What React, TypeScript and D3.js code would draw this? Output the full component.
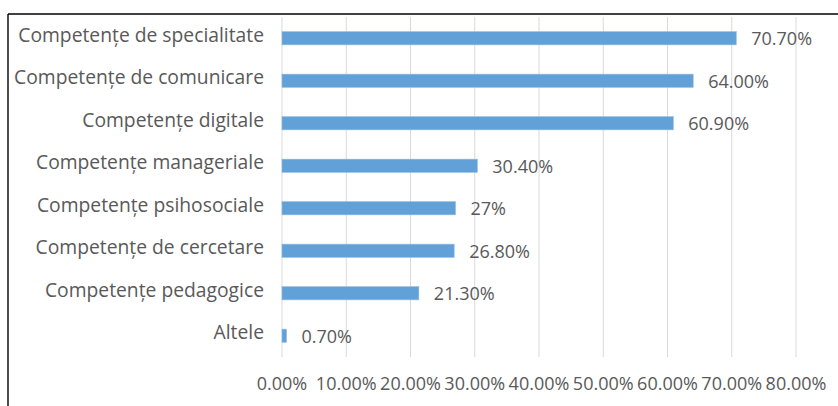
import React from "react";
import * as d3 from "d3";

const categories = [
  "Competențe de specialitate",
  "Competențe de comunicare",
  "Competențe digitale",
  "Competențe manageriale",
  "Competențe psihosociale",
  "Competențe de cercetare",
  "Competențe pedagogice",
  "Altele",
];
const values = [0.707, 0.64, 0.609, 0.304, 0.27, 0.268, 0.213, 0.007];
const valueLabels = ["70.70%", "64.00%", "60.90%", "30.40%", "27%", "26.80%", "21.30%", "0.70%"];
const ticks = [0, 0.1, 0.2, 0.3, 0.4, 0.5, 0.6, 0.7, 0.8];

const W = 838;
const H = 406;
const FONT = "'Open Sans', 'DejaVu Sans', sans-serif";
const TEXT = "#595959";

export default function App() {
  const x = d3.scaleLinear().domain([0, 0.8]).range([282, 796]);
  const y = d3
    .scaleBand<string>()
    .domain(categories)
    .range([17, 357])
    .paddingInner(0.69)
    .paddingOuter(0.345);
  const bw = y.bandwidth();
  const fmt = d3.format(".2%");

  return (
    <svg
      width={W}
      height={H}
      style={{ position: "absolute", left: 0, top: 0, background: "#fff" }}
      fontFamily={FONT}
    >
      <rect x={0} y={0} width={W} height={H} fill="#fff" />
      {ticks.map((t) => (
        <line
          key={t}
          x1={x(t)}
          x2={x(t)}
          y1={17}
          y2={357}
          stroke="#d9d9d9"
          strokeWidth={1}
        />
      ))}
      {categories.map((c, i) => {
        const yc = (y(c) as number) + bw / 2;
        return (
          <g key={c}>
            <rect
              x={x(0)}
              y={y(c)}
              width={x(values[i]) - x(0)}
              height={bw}
              fill="#62A1D7"
              stroke="#8dbbe3"
              strokeWidth={0.6}
            />
            <text
              x={264}
              y={yc + 3.5}
              textAnchor="end"
              fontSize={19.3}
              fill={TEXT}
            >
              {c}
            </text>
            <text x={x(values[i]) + 15} y={yc + 7} fontSize={18} fill={TEXT}>
              {valueLabels[i]}
            </text>
          </g>
        );
      })}
      {ticks.map((t) => (
        <text
          key={"l" + t}
          x={x(t)}
          y={390}
          textAnchor="middle"
          fontSize={18}
          fill={TEXT}
        >
          {fmt(t)}
        </text>
      ))}
      <line x1={8} x2={W} y1={14} y2={14} stroke="#000" strokeWidth={1.4} />
      <line x1={8} x2={8} y1={14} y2={H} stroke="#000" strokeWidth={1.4} />
    </svg>
  );
}
